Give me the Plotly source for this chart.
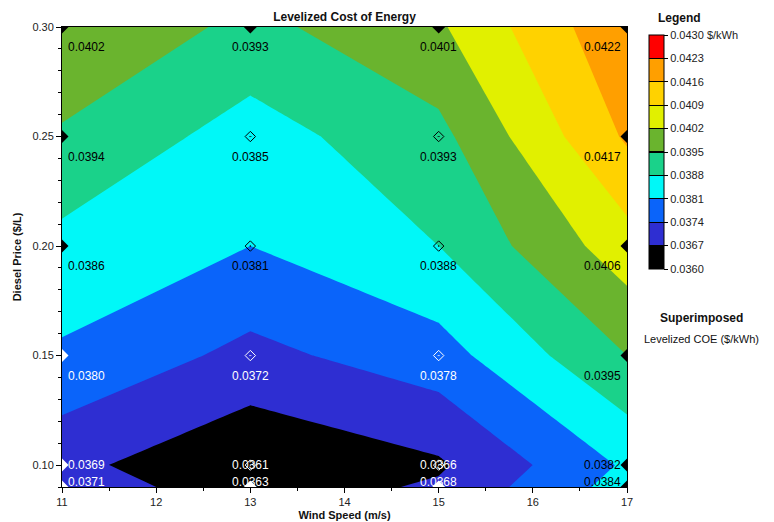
import plotly.graph_objects as go

wind_speed = [11, 13, 15, 17]
diesel_price = [0.09, 0.10, 0.15, 0.20, 0.25, 0.30]
# rows follow diesel_price, columns follow wind_speed
coe = [
    [0.0371, 0.0363, 0.0368, 0.0384],
    [0.0369, 0.0361, 0.0366, 0.0382],
    [0.0380, 0.0372, 0.0378, 0.0395],
    [0.0386, 0.0381, 0.0388, 0.0406],
    [0.0394, 0.0385, 0.0393, 0.0417],
    [0.0402, 0.0393, 0.0401, 0.0422],
]
levels = [0.0360, 0.0367, 0.0374, 0.0381, 0.0388, 0.0395,
          0.0402, 0.0409, 0.0416, 0.0423, 0.0430]
level_labels = ["0.0360", "0.0367", "0.0374", "0.0381", "0.0388", "0.0395",
                "0.0402", "0.0409", "0.0416", "0.0423", "0.0430 $/kWh"]
band_colors = ["#000000", "#2e2ed2", "#0a64fa", "#00f8f8", "#1ad28a",
               "#6ab42e", "#e1f000", "#ffd200", "#ff9f00", "#ff0000"]

FONT = "Liberation Sans, Arial, sans-serif"
n = len(levels)
nb = len(band_colors)
step = levels[1] - levels[0]

# stepped colorscale for the contour fill (plotly samples band i at (i+1)/n)
cs_fill = [[0.0, band_colors[0]]]
for i, c in enumerate(band_colors):
    cs_fill.append([(i + 0.5) / n, c])
    cs_fill.append([min((i + 1.5) / n, 1.0), c])
cs_fill.append([1.0, band_colors[-1]])

# stepped colorscale for the legend bar, with thin black separators
sep = 0.0022
cs_bar = []
for i, c in enumerate(band_colors):
    lo, hi = i / nb, (i + 1) / nb
    if i > 0:
        cs_bar.append([lo, "#000000"])
        cs_bar.append([lo + sep, "#000000"])
        cs_bar.append([lo + sep, c])
    else:
        cs_bar.append([lo, c])
    if i < nb - 1:
        cs_bar.append([hi - sep, c])
        cs_bar.append([hi - sep, "#000000"])
    else:
        cs_bar.append([hi, c])

# the page body has an 8px margin, so the figure is drawn 8px in from the corner
W, H = 766, 514

fig = go.Figure()
# hidden underneath the contour fill; it only supplies the legend bar
fig.add_trace(go.Heatmap(
    x=wind_speed, y=diesel_price, z=coe,
    zmin=levels[0], zmax=levels[-1], colorscale=cs_bar,
    colorbar=dict(
        x=1.0389, xanchor="left", xpad=0,
        y=0.9826, yanchor="top", ypad=0,
        thickness=15, lenmode="pixels", len=234,
        outlinewidth=1, outlinecolor="black",
        tickmode="array", tickvals=levels, ticktext=level_labels,
        ticks="outside", ticklen=4, tickcolor="black", tickwidth=1,
        tickfont=dict(family=FONT, size=11, color="#222"),
    ),
    hoverinfo="skip",
))
fig.add_trace(go.Contour(
    x=wind_speed, y=diesel_price, z=coe,
    colorscale=cs_fill, showscale=False,
    contours=dict(start=levels[0], end=levels[-1], size=step, coloring="fill"),
    line=dict(width=0, smoothing=0),
    hoverinfo="skip",
))

dark_limit = 0.0381
xmin, xmax = min(wind_speed), max(wind_speed)
ymin, ymax = min(diesel_price), max(diesel_price)

edge_x, edge_y, edge_c = [], [], []
in_x, in_y, in_c = [], [], []
annotations = []
for j, yv in enumerate(diesel_price):
    for i, xv in enumerate(wind_speed):
        v = coe[j][i]
        col = "white" if v < dark_limit else "black"
        if xv in (xmin, xmax) or yv in (ymin, ymax):
            edge_x.append(xv); edge_y.append(yv); edge_c.append(col)
        else:
            in_x.append(xv); in_y.append(yv); in_c.append(col)
        if xv == xmin:
            xa, xs = "left", 4
        elif xv == xmax:
            xa, xs = "right", -4
        else:
            xa, xs = "center", 0
        if yv == ymin:
            ys = 5
        elif yv == 0.10:
            ys = 0
        else:
            ys = -20
        annotations.append(dict(
            x=xv, y=yv, xref="x", yref="y", text=f"{v:.4f}",
            showarrow=False, xanchor=xa, yanchor="middle",
            xshift=xs, yshift=ys,
            font=dict(family=FONT, size=12, color=col),
        ))

fig.add_trace(go.Scatter(
    x=edge_x, y=edge_y, mode="markers", cliponaxis=True,
    marker=dict(symbol="diamond", size=10, color=edge_c, line=dict(width=0)),
    hoverinfo="skip", showlegend=False,
))
fig.add_trace(go.Scatter(
    x=in_x, y=in_y, mode="markers", cliponaxis=True,
    marker=dict(symbol="diamond-open-dot", size=8, color=in_c, line=dict(width=1, color=in_c)),
    hoverinfo="skip", showlegend=False,
))

annotations += [
    dict(x=1.0938, y=1.0196, xref="paper", yref="paper", text="<b>Legend</b>",
         showarrow=False, xanchor="center", yanchor="middle",
         font=dict(family=FONT, size=12, color="#111")),
    dict(x=1.131, y=0.367, xref="paper", yref="paper", text="<b>Superimposed</b>",
         showarrow=False, xanchor="center", yanchor="middle",
         font=dict(family=FONT, size=12, color="#111")),
    dict(x=1.131, y=0.3217, xref="paper", yref="paper", text="Levelized COE ($/kWh)",
         showarrow=False, xanchor="center", yanchor="middle",
         font=dict(family=FONT, size=11, color="#111")),
]

axis_common = dict(
    showgrid=False, zeroline=False, showline=True, linecolor="black", linewidth=1,
    mirror=True, ticks="outside", ticklen=5, tickcolor="black", automargin=False,
    tickfont=dict(family=FONT, size=11, color="#222"),
)
fig.update_layout(
    width=W, height=H,
    margin=dict(l=54, r=147, t=19, b=35, autoexpand=False),
    paper_bgcolor="white", plot_bgcolor="white",
    showlegend=False,
    title=dict(text="<b>Levelized Cost of Energy</b>", x=0.5, xref="paper",
               y=1 - 9 / H, yref="container", yanchor="middle",
               font=dict(family=FONT, size=12, color="#111")),
    xaxis=dict(range=[xmin, xmax], dtick=1, tick0=11,
               minor=dict(dtick=0.5, ticks="outside", ticklen=3, tickcolor="black"),
               title=dict(text="<b>Wind Speed (m/s)</b>", standoff=4,
                          font=dict(family=FONT, size=11, color="#111")),
               **axis_common),
    yaxis=dict(range=[ymin, ymax], dtick=0.05, tick0=0.10, tickformat=".2f",
               minor=dict(dtick=0.01, ticks="outside", ticklen=3, tickcolor="black"),
               title=dict(text="<b>Diesel Price ($/L)</b>", standoff=8,
                          font=dict(family=FONT, size=11, color="#111")),
               **axis_common),
    annotations=annotations,
)

fig.write_html("out.html")
